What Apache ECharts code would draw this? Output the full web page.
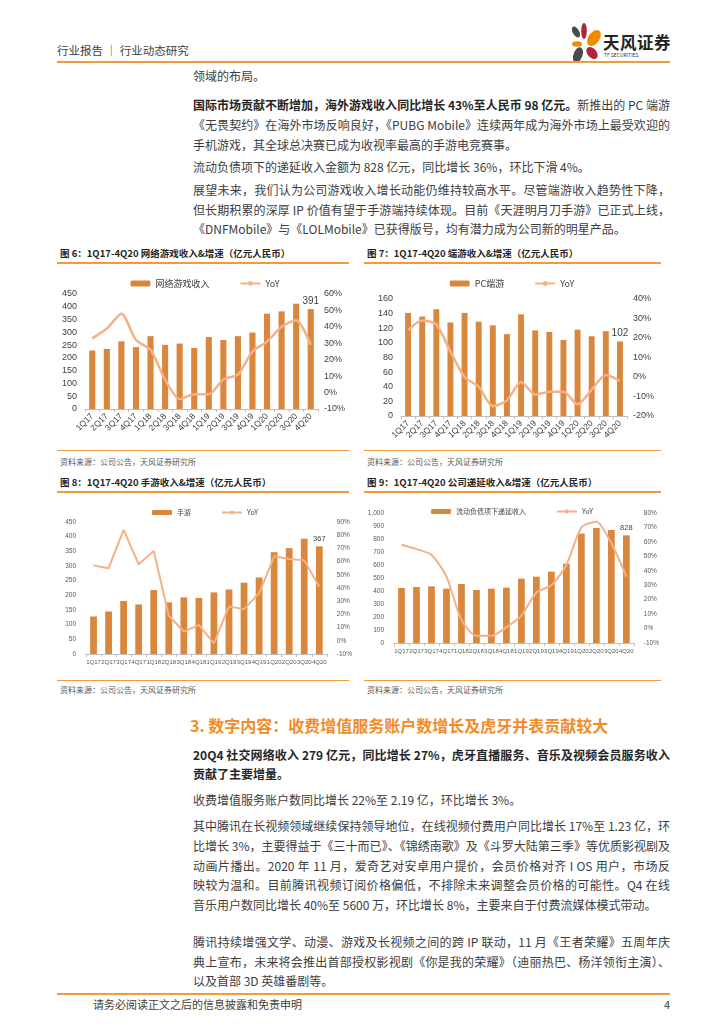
<!DOCTYPE html>
<html><head><meta charset="utf-8">
<script src="https://cdn.jsdelivr.net/npm/echarts@6/dist/echarts.min.js"></script>
<style>
html,body{margin:0;padding:0;background:#fff;}
body{width:724px;height:1024px;position:relative;overflow:hidden;font-family:"Noto Sans CJK SC","Noto Sans",sans-serif;color:#3a3a3a;}
.ab{position:absolute;white-space:nowrap;}
.ln{position:absolute;left:193px;width:477px;font-size:12px;line-height:20px;height:20px;white-space:nowrap;color:#3d3d3d;}
.j{text-align:justify;text-align-last:justify;}
b{font-weight:bold;color:#262626;}
.hr{position:absolute;background:#F39A3C;}
.ft{position:absolute;font-size:9.5px;font-weight:bold;color:#262626;white-space:nowrap;}
.src{position:absolute;font-size:8px;color:#595959;white-space:nowrap;}
.ch{position:absolute;width:300px;height:185px;}
</style></head><body>
<div class="ab" style="left:57px;top:42px;font-size:11.5px;color:#404040;">行业报告 ｜ 行业动态研究</div>
<svg class="ab" style="left:569px;top:22px" width="34" height="42" viewBox="0 0 34 42">
<ellipse cx="7" cy="10" rx="3.2" ry="6" transform="rotate(-30 7 10)" fill="#4a4a4a"/>
<ellipse cx="15" cy="9" rx="2.8" ry="8" fill="#B0243C"/>
<ellipse cx="25" cy="16" rx="5.5" ry="9" transform="rotate(35 25 16)" fill="#F08A00"/>
<ellipse cx="8" cy="22" rx="5" ry="2.8" fill="#F08A00"/>
<ellipse cx="9" cy="33" rx="4.5" ry="8" transform="rotate(20 9 33)" fill="#4a4a4a"/>
<ellipse cx="23" cy="31" rx="4.5" ry="7" transform="rotate(-40 23 31)" fill="#B0243C"/>
</svg>
<div class="ab" style="left:603px;top:30px;font-size:16.5px;font-weight:bold;color:#222;letter-spacing:0.5px;">天风证券</div>
<div class="ab" style="left:604px;top:51px;font-size:5px;color:#333;">TF SECURITIES</div>
<div class="hr" style="left:57px;top:61px;width:613px;height:2px;"></div>

<div class="ln" style="top:66px;">领域的布局。</div>
<div class="ln j" style="top:95px;"><b>国际市场贡献不断增加，海外游戏收入同比增长 43%至人民币 98 亿元。</b>新推出的 PC 端游</div>
<div class="ln j" style="top:115px;">《无畏契约》在海外市场反响良好，《PUBG Mobile》连续两年成为海外市场上最受欢迎的</div>
<div class="ln" style="top:135px;">手机游戏，其全球总决赛已成为收视率最高的手游电竞赛事。</div>
<div class="ln" style="top:157px;">流动负债项下的递延收入金额为 828 亿元，同比增长 36%，环比下滑 4%。</div>
<div class="ln j" style="top:180px;">展望未来，我们认为公司游戏收入增长动能仍维持较高水平。尽管端游收入趋势性下降，</div>
<div class="ln j" style="top:200px;">但长期积累的深厚 IP 价值有望于手游端持续体现。目前《天涯明月刀手游》已正式上线，</div>
<div class="ln" style="top:219px;">《DNFMobile》与《LOLMobile》已获得版号，均有潜力成为公司新的明星产品。</div>

<div class="ft" style="left:60px;top:246px;">图 6：1Q17-4Q20 网络游戏收入&amp;增速（亿元人民币）</div>
<div class="ft" style="left:367px;top:246px;">图 7：1Q17-4Q20 端游收入&amp;增速（亿元人民币）</div>
<div class="hr" style="left:57px;top:262px;width:292px;height:1.5px;"></div>
<div class="hr" style="left:364px;top:262px;width:297px;height:1.5px;"></div>
<div id="c6" class="ch" style="left:55px;top:265px;"></div>
<div id="c7" class="ch" style="left:362px;top:265px;"></div>
<div class="hr" style="left:57px;top:450px;width:292px;height:1px;"></div>
<div class="hr" style="left:364px;top:450px;width:297px;height:1px;"></div>
<div class="src" style="left:60px;top:456px;">资料来源：公司公告，天风证券研究所</div>
<div class="src" style="left:367px;top:456px;">资料来源：公司公告，天风证券研究所</div>

<div class="ft" style="left:60px;top:475px;">图 8：1Q17-4Q20 手游收入&amp;增速（亿元人民币）</div>
<div class="ft" style="left:367px;top:475px;">图 9：1Q17-4Q20 公司递延收入&amp;增速（亿元人民币）</div>
<div class="hr" style="left:57px;top:491px;width:292px;height:1.5px;"></div>
<div class="hr" style="left:364px;top:491px;width:297px;height:1.5px;"></div>
<div id="c8" class="ch" style="left:55px;top:493px;"></div>
<div id="c9" class="ch" style="left:362px;top:493px;"></div>
<div class="hr" style="left:57px;top:680px;width:292px;height:1px;"></div>
<div class="hr" style="left:364px;top:680px;width:297px;height:1px;"></div>
<div class="src" style="left:60px;top:684px;">资料来源：公司公告，天风证券研究所</div>
<div class="src" style="left:367px;top:684px;">资料来源：公司公告，天风证券研究所</div>

<div class="ab" style="left:190px;top:713px;font-size:16px;font-weight:bold;color:#F28C28;">3. 数字内容：收费增值服务账户数增长及虎牙并表贡献较大</div>
<div class="ln j" style="top:745px;"><b>20Q4 社交网络收入 279 亿元，同比增长 27%，虎牙直播服务、音乐及视频会员服务收入</b></div>
<div class="ln" style="top:764px;"><b>贡献了主要增量。</b></div>
<div class="ln" style="top:790px;">收费增值服务账户数同比增长 22%至 2.19 亿，环比增长 3%。</div>
<div class="ln j" style="top:816px;">其中腾讯在长视频领域继续保持领导地位，在线视频付费用户同比增长 17%至 1.23 亿，环</div>
<div class="ln j" style="top:836px;">比增长 3%，主要得益于《三十而已》、《锦绣南歌》及《斗罗大陆第三季》等优质影视剧及</div>
<div class="ln j" style="top:856px;">动画片播出。2020 年 11 月，爱奇艺对安卓用户提价，会员价格对齐 I OS 用户，市场反</div>
<div class="ln j" style="top:875px;">映较为温和。目前腾讯视频订阅价格偏低，不排除未来调整会员价格的可能性。Q4 在线</div>
<div class="ln" style="top:895px;">音乐用户数同比增长 40%至 5600 万，环比增长 8%，主要来自于付费流媒体模式带动。</div>
<div class="ln j" style="top:932px;">腾讯持续增强文学、动漫、游戏及长视频之间的跨 IP 联动，11 月《王者荣耀》五周年庆</div>
<div class="ln j" style="top:952px;">典上宣布，未来将会推出首部授权影视剧《你是我的荣耀》（迪丽热巴、杨洋领衔主演）、</div>
<div class="ln" style="top:971px;">以及首部 3D 英雄番剧等。</div>

<div class="hr" style="left:57px;top:993px;width:613px;height:2px;"></div>
<div class="ab" style="left:93px;top:996px;font-size:11px;color:#404040;">请务必阅读正文之后的信息披露和免责申明</div>
<div class="ab" style="left:664px;top:996px;font-size:11px;color:#404040;">4</div>

<script>
const quarters = ['1Q17','2Q17','3Q17','4Q17','1Q18','2Q18','3Q18','4Q18','1Q19','2Q19','3Q19','4Q19','1Q20','2Q20','3Q20','4Q20'];
const onlineGames = [229,235,265,242,285,251,256,239,282,270,285,299,373,382,412,391];
const onlineGamesYoY = [33,39,48,32,26,8,-4,-1,-1,8,11,25,31,40,44,29];
const pcGames = [141,136,146,128,141,129,124,112,139,117,115,104,118,109,116,102];
const pcGamesYoY = [24,29,27,13,0,-5,-15,-12,-2.5,-9,-7.5,-7.5,-14,-6.5,1,-2];
const mobileGames = [128,145,181,169,218,176,193,191,210,220,243,261,347,361,393,367];
const mobileGamesYoY = [57,55,84,58,68,19,7,12,-2,26,24,36,64,62,61,41];
const deferredRevenue = [423,431,436,418,454,408,418,426,495,510,549,610,841,885,869,828];
const deferredYoY = [58,55,51,36,6,-5,-5,1,9,25,30,44,70,74,59,36];

const FF = '"Noto Sans CJK SC","Noto Sans",sans-serif';
const BAR = '#D9873D', LINE = '#F6B086';

function build(c){
  const n = c.bars.length;
  return {
    animation:false,
    legend:{top:c.legendTop,left:'center',itemGap:c.legendGap,itemWidth:20,itemHeight:c.small?5:6,
      textStyle:{fontSize:c.legendFont,color:'#404040',fontFamily:FF}},
    grid:{left:c.grid[0],top:c.grid[1],width:c.grid[2],height:c.grid[3]},
    xAxis:{type:'category',data:c.cats,
      axisLine:{lineStyle:{color:'#BFBFBF'}},
      axisTick:{show:true,length:3,lineStyle:{color:'#BFBFBF'}},
      axisLabel:{interval:0,rotate:c.rotate,fontSize:c.xFont,color:c.labelColor,margin:c.small?5:6,fontFamily:'"Liberation Sans",sans-serif'}},
    yAxis:[
      {type:'value',min:c.l[0],max:c.l[1],interval:c.l[2],splitLine:{show:false},axisLine:{show:false},axisTick:{show:false},
        axisLabel:{fontSize:c.yFont,color:c.labelColor,margin:c.small?10:8,fontFamily:'"Liberation Sans",sans-serif'}},
      {type:'value',min:c.r[0],max:c.r[1],interval:c.r[2],splitLine:{show:false},axisLine:{show:false},axisTick:{show:false},
        axisLabel:{fontSize:c.yFont,color:c.labelColor,margin:c.small?10:6,formatter:'{value}%',fontFamily:'"Liberation Sans",sans-serif'}}
    ],
    series:[
      {type:'bar',name:c.barName,data:c.bars,barWidth:c.barWidth,itemStyle:{color:BAR},
        label:{show:true,position:'top',fontSize:c.yFont+1,color:'#404040',distance:3,fontFamily:'"Liberation Sans",sans-serif',
          formatter:p=>p.dataIndex===n-1?String(p.value):''}},
      {type:'line',name:'YoY',yAxisIndex:1,data:c.yoy,smooth:c.smooth,symbol:'none',
        lineStyle:{width:c.lineWidth,color:LINE},itemStyle:{color:LINE},
        label:{show:true,position:'bottom',fontSize:c.yFont+1,color:'#404040',distance:c.small?8:6,fontFamily:'"Liberation Sans",sans-serif',
          formatter:p=>p.dataIndex===n-1?Math.round(p.value)+'%':''}}
    ]
  };
}

const cfgs = {
  c6:{cats:quarters,bars:onlineGames,yoy:onlineGamesYoY,barName:'网络游戏收入',grid:[30,29,233,115],l:[0,450,50],r:[-10,60,10],
      legendTop:9,legendGap:30,legendFont:9,rotate:45,xFont:8.5,yFont:9,labelColor:'#404040',barWidth:'42%',smooth:0.25,lineWidth:2.5,small:false},
  c7:{cats:quarters,bars:pcGames,yoy:pcGamesYoY,barName:'PC端游',grid:[39,34,226,117],l:[0,160,20],r:[-20,40,10],
      legendTop:9,legendGap:30,legendFont:9,rotate:45,xFont:8.5,yFont:9,labelColor:'#404040',barWidth:'42%',smooth:0.25,lineWidth:2.5,small:false},
  c8:{cats:quarters,bars:mobileGames,yoy:mobileGamesYoY,barName:'手游',grid:[31,29,241,132],l:[0,450,50],r:[-10,90,10],
      legendTop:11,legendGap:30,legendFont:7,rotate:0,xFont:6,yFont:6.5,labelColor:'#595959',barWidth:'45%',smooth:false,lineWidth:2,small:true},
  c9:{cats:quarters,bars:deferredRevenue,yoy:deferredYoY,barName:'流动负债项下递延收入',grid:[32,20,246,130],l:[0,1000,100],r:[-10,80,10],
      legendTop:10,legendGap:30,legendFont:7,rotate:0,xFont:6,yFont:6.5,labelColor:'#595959',barWidth:'45%',smooth:0.25,lineWidth:2,small:true}
};
for (const id in cfgs){
  const ch = echarts.init(document.getElementById(id),null,{renderer:'canvas'});
  ch.setOption(build(cfgs[id]));
}
</script>
</body></html>
